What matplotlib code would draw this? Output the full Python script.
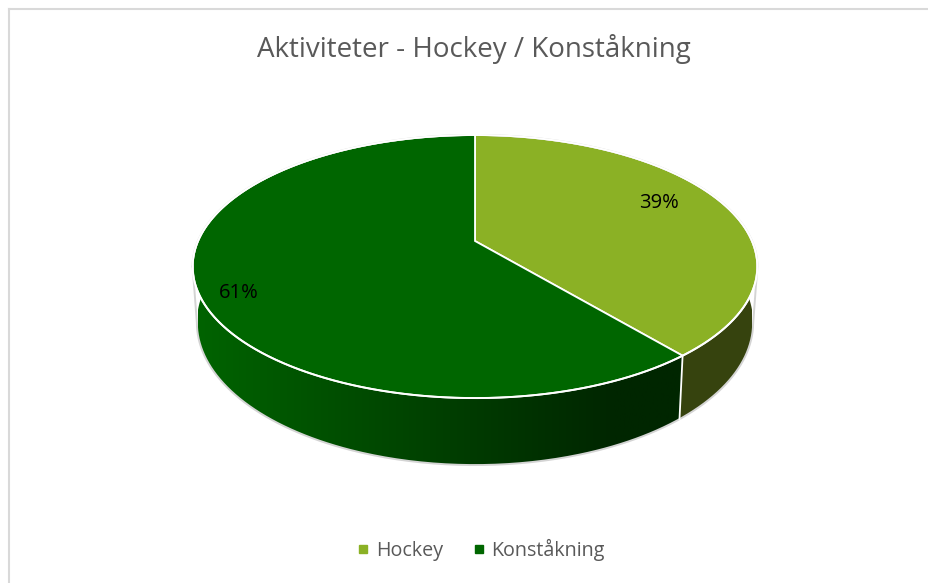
import numpy as np
import matplotlib.pyplot as plt
from matplotlib.patches import Polygon
from matplotlib.lines import Line2D
from matplotlib.colors import to_rgb

plt.rcParams['font.family'] = ['Open Sans', 'DejaVu Sans']

# data
categories = ['Hockey', 'Konståkning']
values = [39, 61]
title = 'Aktiviteter - Hockey / Konståkning'

# colours
top_colors = ['#8bb125', '#006600']
wall_left = ['#3d4b10', '#006300']
wall_right = ['#36430e', '#002600']

# pie geometry in pixels (perspective 3d look)
CX, CY = 475, 241
RX, RY = 277, 126.6
P = 0.194          # perspective strength
DEPTH = 54
SHRINK = 0.985     # bottom rim a bit narrower


def project(theta, r=1.0, drop=0.0, shrink=1.0):
    # theta: degrees clockwise from 12 o'clock
    t = np.radians(theta)
    u = r * np.sin(t)
    v = -r * np.cos(t)
    s = 1.0 / (1.0 - P * v)
    return CX + RX * u * s * shrink, CY + RY * v * s + drop * s


def mix(c0, c1, f):
    a, b = np.array(to_rgb(c0)), np.array(to_rgb(c1))
    return a + (b - a) * f


fig = plt.figure(figsize=(9.29, 5.83), dpi=100)
ax = fig.add_axes([0, 0, 1, 1])
ax.axis('off')

# chart border (only top/left are visible in the crop)
ax.plot([9, 929], [9, 9], color='#d9d9d9', lw=1.5)
ax.plot([9, 9], [9, 583], color='#d9d9d9', lw=1.5)

fracs = np.array(values) / sum(values)
bounds = np.concatenate([[0], np.cumsum(fracs) * 360])

# side walls, only the front half is visible; shaded with a horizontal gradient
x_lo, x_hi = project(270)[0], project(90)[0]
for i in range(len(values)):
    a0, a1 = max(bounds[i], 90), min(bounds[i + 1], 270)
    if a1 <= a0:
        continue
    th = np.linspace(a0, a1, 200)
    tx, ty = project(th)
    bx, by = project(th[::-1], drop=DEPTH, shrink=SHRINK)
    wall = Polygon(np.column_stack([np.r_[tx, bx], np.r_[ty, by]]), closed=True,
                   facecolor='none', edgecolor='none')
    ax.add_patch(wall)
    f = np.linspace(0, 1, 400)
    if i == 1:
        f = np.minimum(1, f / 0.75)
    img = np.array([[mix(wall_left[i], wall_right[i], k) for k in f]])
    im = ax.imshow(img, extent=(x_lo, x_hi, 500, 100), aspect='auto', interpolation='bilinear')
    im.set_clip_path(wall)

# outer silhouette (thin grey halo)
tw = np.degrees(np.arccos(-P))
th_top = np.linspace(-tw, tw, 300)
th_bot = np.linspace(tw, 360 - tw, 300)
sx, sy = project(th_top)
bx, by = project(th_bot, drop=DEPTH, shrink=SHRINK)
ax.plot(np.r_[sx, bx, sx[:1]], np.r_[sy, by, sy[:1]], color='#d4d4d4', lw=1.4)

# boundary between the walls
for b in bounds[1:-1]:
    if 90 <= b <= 270:
        x0, y0 = project(b)
        x1, y1 = project(b, drop=DEPTH, shrink=SHRINK)
        ax.plot([x0, x1], [y0, y1], color='white', lw=1.3)

# top face wedges
for i in range(len(values)):
    th = np.linspace(bounds[i], bounds[i + 1], 200)
    px, py = project(th)
    pts = np.column_stack([np.r_[CX, px], np.r_[CY, py]])
    ax.add_patch(Polygon(pts, closed=True, facecolor=top_colors[i],
                         edgecolor='white', lw=1.3, joinstyle='miter'))

# rim line of the top face
th = np.linspace(0, 360, 400)
ex, ey = project(th)
ax.plot(ex, ey, color='white', lw=1.4)

# percentage labels
nudge = [(-14, -5), (-16, 16)]
for i in range(len(values)):
    mid = (bounds[i] + bounds[i + 1]) / 2
    lx, ly = project(mid, r=0.8)
    ax.text(lx + nudge[i][0], ly + nudge[i][1], f'{values[i]}%', ha='center', va='center',
            fontsize=14.5, color='black')

ax.text(474, 49, title, ha='center', va='center', fontsize=20, color='#595959')

handles = [Line2D([], [], marker='s', ls='none', markersize=5.5, color=c) for c in top_colors]
fig.legend(handles, categories, loc='center', bbox_to_anchor=(481 / 929, 1 - 550 / 583),
           ncol=2, frameon=False, handlelength=0.6, handletextpad=0.35, columnspacing=1.5,
           fontsize=14.2, labelcolor='#595959')

ax.set_xlim(0, 929)
ax.set_ylim(583, 0)
fig.savefig('out.png', dpi=100)
